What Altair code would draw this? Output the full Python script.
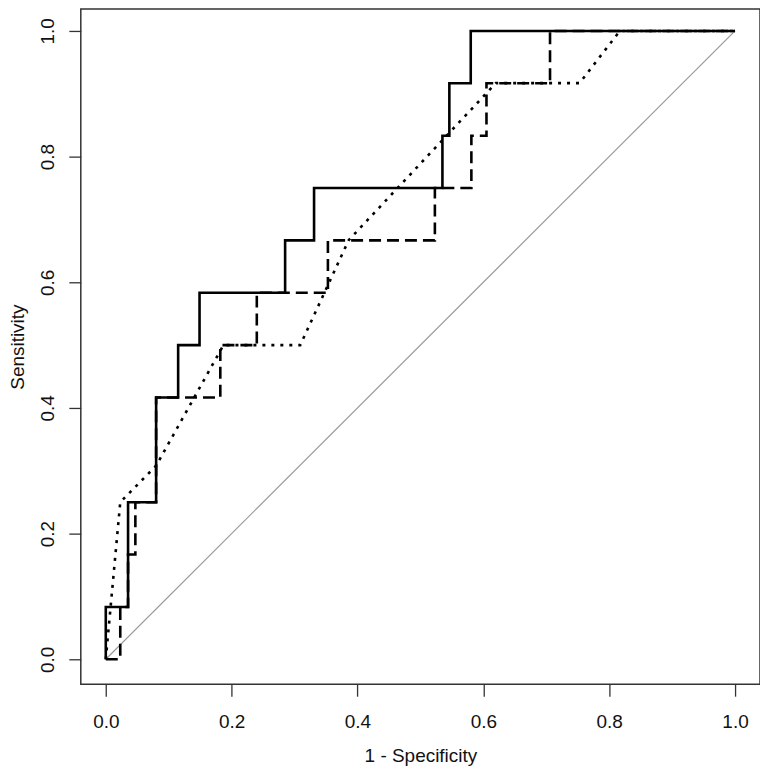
import altair as alt
import pandas as pd

# ROC curves (1 - Specificity, Sensitivity)
solid_x = [0.0, 0.0, 0.0354, 0.0354, 0.080, 0.080, 0.115, 0.115, 0.149, 0.149,
           0.285, 0.285, 0.331, 0.331, 0.535, 0.535, 0.546, 0.546, 0.580, 0.580, 1.0]
solid_y = [0.0, 0.0833, 0.0833, 0.25, 0.25, 0.4167, 0.4167, 0.5, 0.5, 0.5833,
           0.5833, 0.6667, 0.6667, 0.75, 0.75, 0.8333, 0.8333, 0.9167, 0.9167, 1.0, 1.0]

dashed_x = [0.0, 0.023, 0.023, 0.0354, 0.0354, 0.047, 0.047, 0.080, 0.080, 0.182,
            0.182, 0.240, 0.240, 0.353, 0.353, 0.523, 0.523, 0.581, 0.581, 0.605,
            0.605, 0.706, 0.706, 1.0]
dashed_y = [0.0, 0.0, 0.0833, 0.0833, 0.1667, 0.1667, 0.25, 0.25, 0.4167, 0.4167,
            0.5, 0.5, 0.5833, 0.5833, 0.6667, 0.6667, 0.75, 0.75, 0.8333, 0.8333,
            0.9167, 0.9167, 1.0, 1.0]

dotted_x = [0.0, 0.023, 0.080, 0.187, 0.309, 0.386, 0.620, 0.753, 0.817, 1.0]
dotted_y = [0.0, 0.25, 0.308, 0.5, 0.5, 0.667, 0.917, 0.917, 1.0, 1.0]

diag_x = [0.0, 1.0]
diag_y = [0.0, 1.0]

tick_values = [0.0, 0.2, 0.4, 0.6, 0.8, 1.0]


def frame(xs, ys):
    return pd.DataFrame({"x": xs, "y": ys, "i": list(range(len(xs)))})


FONT = "Liberation Sans"
FS = 19
xscale = alt.Scale(domain=[-0.0397, 1.0397], nice=False, zero=False)
yscale = alt.Scale(domain=[-0.0397, 1.0349], nice=False, zero=False)

xaxis = alt.Axis(values=tick_values, format=".1f", title="1 - Specificity",
                 grid=False, domain=False, tickSize=12, tickColor="#333",
                 tickWidth=1.3, labelFont=FONT, labelFontSize=FS, labelColor="#111",
                 labelPadding=16, titleFont=FONT, titleFontSize=FS,
                 titleFontWeight="normal", titleColor="#111", titlePadding=15)
yaxis = alt.Axis(values=tick_values, format=".1f", title="Sensitivity",
                 grid=False, domain=False, tickSize=12, tickColor="#333",
                 tickWidth=1.3, labelFont=FONT, labelFontSize=FS, labelColor="#111",
                 labelAngle=270, labelAlign="center", labelBaseline="bottom",
                 labelPadding=11, titleFont=FONT, titleFontSize=FS,
                 titleFontWeight="normal", titleColor="#111", titlePadding=11)


def enc(chart):
    return chart.encode(
        x=alt.X("x:Q", scale=xscale, axis=xaxis),
        y=alt.Y("y:Q", scale=yscale, axis=yaxis),
        order=alt.Order("i:Q"),
    )


diag = enc(alt.Chart(frame(diag_x, diag_y)).mark_line(color="#999999", strokeWidth=1.2))
dotted = enc(alt.Chart(frame(dotted_x, dotted_y)).mark_line(
    color="black", strokeWidth=2.6, strokeDash=[3, 6]))
dashed = enc(alt.Chart(frame(dashed_x, dashed_y)).mark_line(
    color="black", strokeWidth=2.6, strokeDash=[12, 6]))
solid = enc(alt.Chart(frame(solid_x, solid_y)).mark_line(
    color="black", strokeWidth=2.6))

chart = alt.layer(diag, dotted, dashed, solid).properties(
    width=681,
    height=677,
    autosize=alt.AutoSizeParams(type="none"),
    padding={"left": 73, "top": 0, "right": 0, "bottom": 86},
    background="white",
).configure_view(
    stroke="#333333", strokeWidth=1.5
)

chart.save("out.html", embed_options={"renderer": "svg", "actions": False})
